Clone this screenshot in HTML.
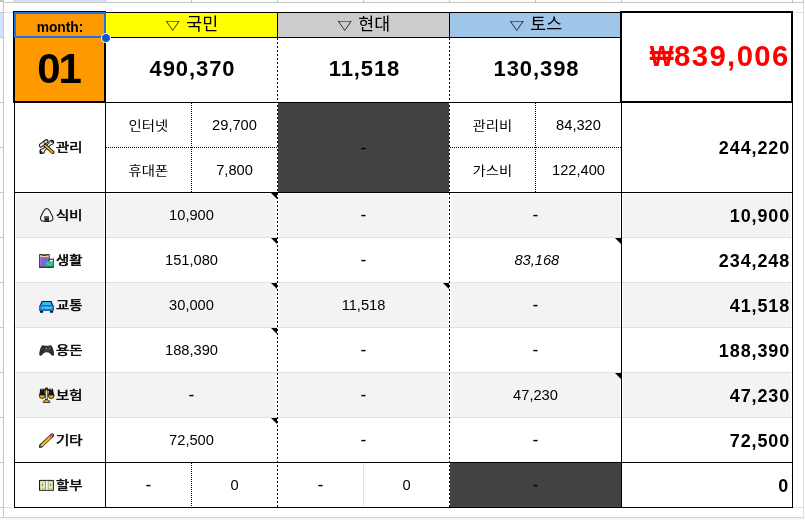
<!DOCTYPE html>
<html lang="ko"><head><meta charset="utf-8"><title>sheet</title>
<style>
html,body{margin:0;padding:0;background:#fff}
body{width:805px;height:520px;position:relative;overflow:hidden;font-family:"Liberation Sans", "Noto Sans CJK KR", sans-serif}
body>div{position:absolute}
.t{display:flex;align-items:center;white-space:nowrap;line-height:1}
.tri{font-size:14.5px;display:inline-block;-webkit-text-stroke:0.15px #000;transform:translate(-1.5px,0.5px) scale(1,0.8)}
.ic{display:inline-block;width:16px;height:16px;margin-right:1px}
.ic svg{display:block;width:16px;height:16px}
</style></head><body>
<div style="left:0px;top:0px;width:805px;height:2px;background:#fcfcfc;"></div>
<div style="left:0px;top:0px;width:3px;height:517px;background:#fcfcfc;"></div>
<div style="left:15px;top:0px;width:90px;height:2px;background:#d3e3fd;"></div>
<div style="left:0px;top:13px;width:3px;height:24px;background:#d3e3fd;"></div>
<div style="left:0px;top:0px;width:3px;height:2px;background:#c6c6c6;"></div>
<div style="left:14px;top:0px;width:1px;height:2px;background:#c4c7c5;"></div>
<div style="left:105px;top:0px;width:1px;height:2px;background:#c4c7c5;"></div>
<div style="left:191px;top:0px;width:1px;height:2px;background:#c4c7c5;"></div>
<div style="left:277px;top:0px;width:1px;height:2px;background:#c4c7c5;"></div>
<div style="left:363px;top:0px;width:1px;height:2px;background:#c4c7c5;"></div>
<div style="left:449px;top:0px;width:1px;height:2px;background:#c4c7c5;"></div>
<div style="left:535px;top:0px;width:1px;height:2px;background:#c4c7c5;"></div>
<div style="left:621px;top:0px;width:1px;height:2px;background:#c4c7c5;"></div>
<div style="left:792px;top:0px;width:1px;height:2px;background:#c4c7c5;"></div>
<div style="left:803px;top:0px;width:1px;height:2px;background:#c4c7c5;"></div>
<div style="left:0px;top:12px;width:3px;height:1px;background:#c4c7c5;"></div>
<div style="left:0px;top:37px;width:3px;height:1px;background:#c4c7c5;"></div>
<div style="left:0px;top:102px;width:3px;height:1px;background:#c4c7c5;"></div>
<div style="left:0px;top:147px;width:3px;height:1px;background:#c4c7c5;"></div>
<div style="left:0px;top:192px;width:3px;height:1px;background:#c4c7c5;"></div>
<div style="left:0px;top:237px;width:3px;height:1px;background:#c4c7c5;"></div>
<div style="left:0px;top:282px;width:3px;height:1px;background:#c4c7c5;"></div>
<div style="left:0px;top:327px;width:3px;height:1px;background:#c4c7c5;"></div>
<div style="left:0px;top:372px;width:3px;height:1px;background:#c4c7c5;"></div>
<div style="left:0px;top:417px;width:3px;height:1px;background:#c4c7c5;"></div>
<div style="left:0px;top:462px;width:3px;height:1px;background:#c4c7c5;"></div>
<div style="left:0px;top:507px;width:3px;height:1px;background:#c4c7c5;"></div>
<div style="left:3px;top:2px;width:801px;height:1px;background:#c4c7c5;"></div>
<div style="left:3px;top:0px;width:1px;height:518px;background:#c4c7c5;"></div>
<div style="left:0px;top:517px;width:804px;height:1px;background:#d0d0d0;"></div>
<div style="left:0px;top:518px;width:805px;height:2px;background:#f6f6f6;"></div>
<div style="left:803px;top:3px;width:1px;height:514px;background:#e1e1e1;"></div>
<div style="left:804px;top:0px;width:1px;height:520px;background:#fafafa;"></div>
<div style="left:4px;top:12px;width:9px;height:1px;background:#e1e1e1;"></div>
<div style="left:4px;top:507px;width:9px;height:1px;background:#e1e1e1;"></div>
<div style="left:793px;top:12px;width:10px;height:1px;background:#e1e1e1;"></div>
<div style="left:793px;top:507px;width:10px;height:1px;background:#e1e1e1;"></div>
<div style="left:15px;top:13px;width:89px;height:88px;background:#ff9900;"></div>
<div style="left:106px;top:13px;width:171px;height:24px;background:#ffff00;"></div>
<div style="left:278px;top:13px;width:171px;height:24px;background:#cccccc;"></div>
<div style="left:450px;top:13px;width:170px;height:24px;background:#9fc5e8;"></div>
<div style="left:278px;top:103px;width:171px;height:89px;background:#434343;"></div>
<div style="left:450px;top:463px;width:171px;height:44px;background:#434343;"></div>
<div style="left:16px;top:194px;width:88px;height:43px;background:#f3f3f3;"></div>
<div style="left:107px;top:194px;width:169px;height:43px;background:#f3f3f3;"></div>
<div style="left:279px;top:194px;width:169px;height:43px;background:#f3f3f3;"></div>
<div style="left:451px;top:194px;width:169px;height:43px;background:#f3f3f3;"></div>
<div style="left:623px;top:194px;width:168px;height:43px;background:#f3f3f3;"></div>
<div style="left:16px;top:283px;width:88px;height:44px;background:#f3f3f3;"></div>
<div style="left:107px;top:283px;width:169px;height:44px;background:#f3f3f3;"></div>
<div style="left:279px;top:283px;width:169px;height:44px;background:#f3f3f3;"></div>
<div style="left:451px;top:283px;width:169px;height:44px;background:#f3f3f3;"></div>
<div style="left:623px;top:283px;width:168px;height:44px;background:#f3f3f3;"></div>
<div style="left:16px;top:373px;width:88px;height:44px;background:#f3f3f3;"></div>
<div style="left:107px;top:373px;width:169px;height:44px;background:#f3f3f3;"></div>
<div style="left:279px;top:373px;width:169px;height:44px;background:#f3f3f3;"></div>
<div style="left:451px;top:373px;width:169px;height:44px;background:#f3f3f3;"></div>
<div style="left:623px;top:373px;width:168px;height:44px;background:#f3f3f3;"></div>
<div style="left:15px;top:237px;width:777px;height:1px;background:#e1e1e1;"></div>
<div style="left:15px;top:282px;width:777px;height:1px;background:#e1e1e1;"></div>
<div style="left:15px;top:327px;width:777px;height:1px;background:#e1e1e1;"></div>
<div style="left:15px;top:372px;width:777px;height:1px;background:#e1e1e1;"></div>
<div style="left:15px;top:417px;width:777px;height:1px;background:#e1e1e1;"></div>
<div style="left:363px;top:463px;width:1px;height:44px;background:#e1e1e1;"></div>
<div style="left:277px;top:38px;width:1px;height:64px;background:repeating-linear-gradient(180deg,#000 0 2px,transparent 2px 4px);background-position:0 0px;background-size:1px 4px"></div>
<div style="left:277px;top:103px;width:1px;height:404px;background:repeating-linear-gradient(180deg,#000 0 2px,transparent 2px 4px);background-position:0 2px;background-size:1px 4px"></div>
<div style="left:449px;top:38px;width:1px;height:64px;background:repeating-linear-gradient(180deg,#000 0 2px,transparent 2px 4px);background-position:0 0px;background-size:1px 4px"></div>
<div style="left:449px;top:103px;width:1px;height:404px;background:repeating-linear-gradient(180deg,#000 0 2px,transparent 2px 4px);background-position:0 2px;background-size:1px 4px"></div>
<div style="left:191px;top:103px;width:1px;height:89px;background:repeating-linear-gradient(180deg,#000 0 1px,transparent 1px 2px);background-position:0 0px;background-size:1px 2px"></div>
<div style="left:535px;top:103px;width:1px;height:89px;background:repeating-linear-gradient(180deg,#000 0 1px,transparent 1px 2px);background-position:0 0px;background-size:1px 2px"></div>
<div style="left:191px;top:463px;width:1px;height:44px;background:repeating-linear-gradient(180deg,#000 0 1px,transparent 1px 2px);background-position:0 0px;background-size:1px 2px"></div>
<div style="left:106px;top:147px;width:171px;height:1px;background:repeating-linear-gradient(90deg,#000 0 1px,transparent 1px 2px);background-position:0px 0;background-size:2px 1px"></div>
<div style="left:450px;top:147px;width:171px;height:1px;background:repeating-linear-gradient(90deg,#000 0 1px,transparent 1px 2px);background-position:0px 0;background-size:2px 1px"></div>
<div style="left:14px;top:103px;width:1px;height:405px;background:#000;"></div>
<div style="left:105px;top:103px;width:1px;height:405px;background:#000;"></div>
<div style="left:621px;top:103px;width:1px;height:405px;background:#000;"></div>
<div style="left:792px;top:103px;width:1px;height:405px;background:#000;"></div>
<div style="left:106px;top:12px;width:514px;height:1px;background:#000;"></div>
<div style="left:106px;top:37px;width:514px;height:1px;background:#000;"></div>
<div style="left:106px;top:102px;width:514px;height:1px;background:#000;"></div>
<div style="left:277px;top:13px;width:1px;height:24px;background:#000;"></div>
<div style="left:449px;top:13px;width:1px;height:24px;background:#000;"></div>
<div style="left:14px;top:192px;width:779px;height:1px;background:#000;"></div>
<div style="left:14px;top:462px;width:779px;height:1px;background:#000;"></div>
<div style="left:14px;top:507px;width:779px;height:1px;background:#000;"></div>
<div style="left:13px;top:11px;width:93px;height:92px;border:2px solid #000;box-sizing:border-box"></div>
<div style="left:620px;top:11px;width:173px;height:92px;border:2px solid #000;box-sizing:border-box"></div>
<div style="left:271px;top:193px;width:0;height:0;border-left:6px solid transparent;border-top:6px solid #000"></div>
<div style="left:271px;top:238px;width:0;height:0;border-left:6px solid transparent;border-top:6px solid #000"></div>
<div style="left:271px;top:283px;width:0;height:0;border-left:6px solid transparent;border-top:6px solid #000"></div>
<div style="left:271px;top:328px;width:0;height:0;border-left:6px solid transparent;border-top:6px solid #000"></div>
<div style="left:271px;top:418px;width:0;height:0;border-left:6px solid transparent;border-top:6px solid #000"></div>
<div style="left:443px;top:283px;width:0;height:0;border-left:6px solid transparent;border-top:6px solid #000"></div>
<div style="left:615px;top:238px;width:0;height:0;border-left:6px solid transparent;border-top:6px solid #000"></div>
<div style="left:615px;top:373px;width:0;height:0;border-left:6px solid transparent;border-top:6px solid #000"></div>
<div class="t" style="left:15px;top:13px;width:90px;height:24px;justify-content:center;font-size:13.8px;font-weight:700;"><span style="display:inline-block;transform:translate(0px,3px)">month:</span></div>
<div class="t" style="left:15px;top:38px;width:90px;height:64px;justify-content:center;font-size:42px;font-weight:700;letter-spacing:-2px;"><span style="display:inline-block;transform:translate(-1.5px,-1.4px)">01</span></div>
<div class="t" style="left:106px;top:13px;width:171px;height:24px;justify-content:center;font-size:17.33px;"><span style="display:inline-block;transform:translate(1px,0px)"><span class="tri">▽</span> 국민</span></div>
<div class="t" style="left:278px;top:13px;width:171px;height:24px;justify-content:center;font-size:17.33px;"><span style="display:inline-block;transform:translate(1px,0px)"><span class="tri">▽</span> 현대</span></div>
<div class="t" style="left:450px;top:13px;width:171px;height:24px;justify-content:center;font-size:17.33px;"><span style="display:inline-block;transform:translate(1px,0px)"><span class="tri">▽</span> 토스</span></div>
<div class="t" style="left:106px;top:38px;width:171px;height:64px;justify-content:center;font-size:22px;font-weight:700;letter-spacing:0.9px;"><span style="display:inline-block;transform:translate(1px,-0.7px)">490,370</span></div>
<div class="t" style="left:278px;top:38px;width:171px;height:64px;justify-content:center;font-size:22px;font-weight:700;letter-spacing:0.9px;"><span style="display:inline-block;transform:translate(1px,-0.7px)">11,518</span></div>
<div class="t" style="left:450px;top:38px;width:171px;height:64px;justify-content:center;font-size:22px;font-weight:700;letter-spacing:0.9px;"><span style="display:inline-block;transform:translate(1px,-0.7px)">130,398</span></div>
<div class="t" style="left:622px;top:13px;width:168px;height:88px;justify-content:flex-end;font-size:29.33px;font-weight:700;color:#ff0000;letter-spacing:1.4px;"><span style="display:inline-block;transform:translate(-0.2px,-0.7px)"><span style="display:inline-block;width:24.6px;letter-spacing:0;transform:scaleX(0.86);transform-origin:0 50%">₩</span>839,006</span></div>
<div class="t" style="left:106px;top:103px;width:85px;height:44px;justify-content:center;font-size:12.6px"><span style="display:inline-block;transform:translateY(0.5px) scaleX(1.14)">인터넷</span></div>
<div class="t" style="left:192px;top:103px;width:85px;height:44px;justify-content:center;font-size:14.67px;"><span>29,700</span></div>
<div class="t" style="left:106px;top:148px;width:85px;height:44px;justify-content:center;font-size:12.6px"><span style="display:inline-block;transform:translateY(0.5px) scaleX(1.14)">휴대폰</span></div>
<div class="t" style="left:192px;top:148px;width:85px;height:44px;justify-content:center;font-size:14.67px;"><span>7,800</span></div>
<div class="t" style="left:450px;top:103px;width:85px;height:44px;justify-content:center;font-size:12.6px"><span style="display:inline-block;transform:translateY(0.5px) scaleX(1.14)">관리비</span></div>
<div class="t" style="left:536px;top:103px;width:85px;height:44px;justify-content:center;font-size:14.67px;"><span>84,320</span></div>
<div class="t" style="left:450px;top:148px;width:85px;height:44px;justify-content:center;font-size:12.6px"><span style="display:inline-block;transform:translateY(0.5px) scaleX(1.14)">가스비</span></div>
<div class="t" style="left:536px;top:148px;width:85px;height:44px;justify-content:center;font-size:14.67px;"><span>122,400</span></div>
<div class="t" style="left:278px;top:103px;width:171px;height:89px;justify-content:center;font-size:17.5px;"><span style="display:inline-block;transform:translate(0px,0.8px)">-</span></div>
<div class="t" style="left:622px;top:103px;width:170px;height:89px;justify-content:flex-end;font-size:18px;font-weight:700;letter-spacing:0.9px;"><span style="display:inline-block;transform:translate(-1.8px,-0.5px)">244,220</span></div>
<div class="t" style="left:106px;top:193px;width:171px;height:44px;justify-content:center;font-size:14.67px;"><span>10,900</span></div>
<div class="t" style="left:278px;top:193px;width:171px;height:44px;justify-content:center;font-size:17.5px;"><span style="display:inline-block;transform:translate(0px,0.8px)">-</span></div>
<div class="t" style="left:450px;top:193px;width:171px;height:44px;justify-content:center;font-size:17.5px;"><span style="display:inline-block;transform:translate(0px,0.8px)">-</span></div>
<div class="t" style="left:622px;top:193px;width:170px;height:44px;justify-content:flex-end;font-size:18px;font-weight:700;letter-spacing:0.9px;"><span style="display:inline-block;transform:translate(-1.8px,0.5px)">10,900</span></div>
<div class="t" style="left:106px;top:238px;width:171px;height:44px;justify-content:center;font-size:14.67px;"><span>151,080</span></div>
<div class="t" style="left:278px;top:238px;width:171px;height:44px;justify-content:center;font-size:17.5px;"><span style="display:inline-block;transform:translate(0px,0.8px)">-</span></div>
<div class="t" style="left:450px;top:238px;width:171px;height:44px;justify-content:center;font-size:14.67px;"><span><i style="display:inline-block;transform:translateX(1.3px)">83,168</i></span></div>
<div class="t" style="left:622px;top:238px;width:170px;height:44px;justify-content:flex-end;font-size:18px;font-weight:700;letter-spacing:0.9px;"><span style="display:inline-block;transform:translate(-1.8px,0.5px)">234,248</span></div>
<div class="t" style="left:106px;top:283px;width:171px;height:44px;justify-content:center;font-size:14.67px;"><span>30,000</span></div>
<div class="t" style="left:278px;top:283px;width:171px;height:44px;justify-content:center;font-size:14.67px;"><span>11,518</span></div>
<div class="t" style="left:450px;top:283px;width:171px;height:44px;justify-content:center;font-size:17.5px;"><span style="display:inline-block;transform:translate(0px,0.8px)">-</span></div>
<div class="t" style="left:622px;top:283px;width:170px;height:44px;justify-content:flex-end;font-size:18px;font-weight:700;letter-spacing:0.9px;"><span style="display:inline-block;transform:translate(-1.8px,0.5px)">41,518</span></div>
<div class="t" style="left:106px;top:328px;width:171px;height:44px;justify-content:center;font-size:14.67px;"><span>188,390</span></div>
<div class="t" style="left:278px;top:328px;width:171px;height:44px;justify-content:center;font-size:17.5px;"><span style="display:inline-block;transform:translate(0px,0.8px)">-</span></div>
<div class="t" style="left:450px;top:328px;width:171px;height:44px;justify-content:center;font-size:17.5px;"><span style="display:inline-block;transform:translate(0px,0.8px)">-</span></div>
<div class="t" style="left:622px;top:328px;width:170px;height:44px;justify-content:flex-end;font-size:18px;font-weight:700;letter-spacing:0.9px;"><span style="display:inline-block;transform:translate(-1.8px,0.5px)">188,390</span></div>
<div class="t" style="left:106px;top:373px;width:171px;height:44px;justify-content:center;font-size:17.5px;"><span style="display:inline-block;transform:translate(0px,0.8px)">-</span></div>
<div class="t" style="left:278px;top:373px;width:171px;height:44px;justify-content:center;font-size:17.5px;"><span style="display:inline-block;transform:translate(0px,0.8px)">-</span></div>
<div class="t" style="left:450px;top:373px;width:171px;height:44px;justify-content:center;font-size:14.67px;"><span>47,230</span></div>
<div class="t" style="left:622px;top:373px;width:170px;height:44px;justify-content:flex-end;font-size:18px;font-weight:700;letter-spacing:0.9px;"><span style="display:inline-block;transform:translate(-1.8px,0.5px)">47,230</span></div>
<div class="t" style="left:106px;top:418px;width:171px;height:44px;justify-content:center;font-size:14.67px;"><span>72,500</span></div>
<div class="t" style="left:278px;top:418px;width:171px;height:44px;justify-content:center;font-size:17.5px;"><span style="display:inline-block;transform:translate(0px,0.8px)">-</span></div>
<div class="t" style="left:450px;top:418px;width:171px;height:44px;justify-content:center;font-size:17.5px;"><span style="display:inline-block;transform:translate(0px,0.8px)">-</span></div>
<div class="t" style="left:622px;top:418px;width:170px;height:44px;justify-content:flex-end;font-size:18px;font-weight:700;letter-spacing:0.9px;"><span style="display:inline-block;transform:translate(-1.8px,0.5px)">72,500</span></div>
<div class="t" style="left:106px;top:463px;width:85px;height:44px;justify-content:center;font-size:17.5px;"><span style="display:inline-block;transform:translate(0px,0.8px)">-</span></div>
<div class="t" style="left:192px;top:463px;width:85px;height:44px;justify-content:center;font-size:14.67px;"><span>0</span></div>
<div class="t" style="left:278px;top:463px;width:85px;height:44px;justify-content:center;font-size:17.5px;"><span style="display:inline-block;transform:translate(0px,0.8px)">-</span></div>
<div class="t" style="left:364px;top:463px;width:85px;height:44px;justify-content:center;font-size:14.67px;"><span>0</span></div>
<div class="t" style="left:450px;top:463px;width:171px;height:44px;justify-content:center;font-size:17.5px;"><span style="display:inline-block;transform:translate(0px,0.8px)">-</span></div>
<div class="t" style="left:622px;top:463px;width:170px;height:44px;justify-content:flex-end;font-size:18px;font-weight:700;letter-spacing:0.9px;"><span style="display:inline-block;transform:translate(-2.8px,0.5px)">0</span></div>
<div style="left:39px;top:139px;line-height:0"><svg width="16" height="16" viewBox="0 0 16 16"><g transform="translate(0,0.4)"><path d="M3.2 11.9 L12.4 3" stroke="#151515" stroke-width="3.5"/><circle cx="3.2" cy="11.9" r="2.75" fill="#151515"/><circle cx="12.6" cy="2.9" r="2.5" fill="#151515"/><path d="M3.4 11.7 L12.2 3.2" stroke="#ececec" stroke-width="1.7"/><circle cx="3.5" cy="11.6" r="1.75" fill="#f0f0f0"/><circle cx="12.3" cy="3.2" r="1.6" fill="#f0f0f0"/><path d="M0.9 14.3 L3.1 12.1" stroke="#151515" stroke-width="1.6"/><path d="M14.4 1.2 L12.5 3.1" stroke="#151515" stroke-width="1.6"/><path d="M4 4.2 L13.7 12.9" stroke="#151515" stroke-width="3.5" stroke-linecap="round"/><path d="M3.6 3.7 L13.6 12.8" stroke="#f5a800" stroke-width="1.9" stroke-linecap="round"/><path d="M1.9 6 L7.4 1.9" stroke="#151515" stroke-width="4.3" stroke-linecap="round"/><path d="M1.9 6 L4.1 4.35" stroke="#ececec" stroke-width="2.3" stroke-linecap="round"/><path d="M6.2 2.9 L7.4 2" stroke="#e0e0e0" stroke-width="2" stroke-linecap="round"/><path d="M3.2 3.2 L4.1 4" stroke="#f5a800" stroke-width="1.3"/></g></svg></div>
<div class="t lab" style="left:56px;top:104px;width:40px;height:89px;justify-content:flex-start;font-size:12.4px;font-weight:400;-webkit-text-stroke:0.5px #000"><span style="display:inline-block;transform:scaleX(1.16);transform-origin:0 50%">관리</span></div>
<div style="left:39px;top:207px;line-height:0"><svg width="16" height="16" viewBox="0 0 16 16"><g transform="translate(0,0.4)"><path d="M7.7 1.1 C6.2 1.1 5.3 2.3 4.4 4 L1.8 9.3 C0.6 11.8 2 13.6 4.5 13.9 C6.6 14.2 8.8 14.2 10.9 13.9 C13.4 13.6 14.8 11.8 13.6 9.3 L11 4 C10.1 2.3 9.2 1.1 7.7 1.1Z" fill="#f6f6f6" stroke="#1a1a1a" stroke-width="1.05"/><rect x="5.4" y="9" width="4.6" height="4.9" fill="#2e2e2e"/><rect x="5.4" y="9" width="4.6" height="1.6" fill="#555"/></g></svg></div>
<div class="t lab" style="left:56px;top:194px;width:40px;height:44px;justify-content:flex-start;font-size:12.4px;font-weight:400;-webkit-text-stroke:0.5px #000"><span style="display:inline-block;transform:scaleX(1.16);transform-origin:0 50%">식비</span></div>
<div style="left:39px;top:253px;line-height:0"><svg width="16" height="16" viewBox="0 0 16 16"><g transform="translate(0,0)"><rect x="0.7" y="1.6" width="9.4" height="12.5" fill="#fff" stroke="#1c1c1c" stroke-width="1"/><path d="M2.6 2 H8.4 V3 H2.6Z" fill="#1c1c1c"/><rect x="1.2" y="3.8" width="8.4" height="9.8" fill="#8560e0"/><path d="M10.1 5.7 C11 6.6 13.4 6.6 14.3 5.7 V14.1 H10.1Z" fill="#fff" stroke="#1c1c1c" stroke-width="1"/><rect x="6.6" y="8.4" width="7.7" height="5.7" fill="#1dbf9c"/><path d="M0.2 14.1 H14.8" stroke="#1c1c1c" stroke-width="1"/><path d="M3.5 5.2 V3.4 A2 2.3 0 0 1 7.5 3.4 V5.2" fill="none" stroke="#d99a10" stroke-width="0.9"/><path d="M8.6 9.6 V10.6 L10.4 12.2 L12.2 10.6 V9.6" fill="none" stroke="#c9d23a" stroke-width="0.6"/></g></svg></div>
<div class="t lab" style="left:56px;top:239px;width:40px;height:44px;justify-content:flex-start;font-size:12.4px;font-weight:400;-webkit-text-stroke:0.5px #000"><span style="display:inline-block;transform:scaleX(1.16);transform-origin:0 50%">생활</span></div>
<div style="left:39px;top:301px;line-height:0"><svg width="16" height="13" viewBox="0 0 16 13"><g transform="translate(0,0)"><rect x="0.9" y="9" width="3.2" height="2.8" rx=".6" fill="#151515"/><rect x="10.9" y="9" width="3.2" height="2.8" rx=".6" fill="#151515"/><path d="M2.6 0 H12.5 L14.6 5.2 H0.5Z" fill="#161616"/><path d="M3.5 1 H11.6 L13.3 5 H1.8Z" fill="#2bbcf4"/><rect x="0.2" y="4.2" width="14.7" height="5.8" rx="1.2" fill="#143a66"/><rect x="0.8" y="4.4" width="13.5" height="5.4" rx="1" fill="#1a8de8"/><rect x="0.8" y="8.3" width="13.5" height="1.5" rx=".7" fill="#0e6fd2"/><rect x="5.6" y="6.1" width="4.8" height="1.4" fill="#b9c0cc"/><circle cx="3.8" cy="6.9" r=".85" fill="#c8e070"/><circle cx="11.6" cy="6.9" r=".85" fill="#c8e070"/></g></svg></div>
<div class="t lab" style="left:56px;top:284px;width:40px;height:44px;justify-content:flex-start;font-size:12.4px;font-weight:400;-webkit-text-stroke:0.5px #000"><span style="display:inline-block;transform:scaleX(1.16);transform-origin:0 50%">교통</span></div>
<div style="left:39px;top:345px;line-height:0"><svg width="16" height="12" viewBox="0 0 16 12"><g transform="translate(0,0)"><path d="M3.2 0.4 C4.2 0 5.2 0.3 5.7 0.8 H9.7 C10.2 0.3 11.2 0 12.2 0.4 C13.7 1 15.3 7.4 15.1 9.4 C14.9 11.1 13.4 11.2 12.4 10.1 L10.4 8 C9.2 7.1 6.2 7.1 5 8 L3 10.1 C2 11.2 0.5 11.1 0.3 9.4 C0.1 7.4 1.7 1 3.2 0.4Z" fill="#2e2e2e"/><circle cx="7.3" cy="3.4" r=".6" fill="#e8e8e8"/><circle cx="10.3" cy="2.4" r=".5" fill="#d8b020"/><circle cx="11.4" cy="3.4" r=".5" fill="#d04030"/><circle cx="9.2" cy="3.4" r=".5" fill="#3070d0"/><circle cx="10.3" cy="4.4" r=".5" fill="#30a030"/><rect x="3.3" y="3" width="1.6" height=".7" fill="#555"/><rect x="5.2" y="5" width="4.6" height="1.3" rx=".5" fill="#484848"/></g></svg></div>
<div class="t lab" style="left:56px;top:329px;width:40px;height:44px;justify-content:flex-start;font-size:12.4px;font-weight:400;-webkit-text-stroke:0.5px #000"><span style="display:inline-block;transform:scaleX(1.16);transform-origin:0 50%">용돈</span></div>
<div style="left:39px;top:387px;line-height:0"><svg width="16" height="17" viewBox="0 0 16 17"><g transform="translate(0,0.5)"><path d="M1.3 1.2 H5.3 L6.2 7.9 H0.2Z" fill="#151515"/><path d="M9.9 1.2 H13.9 L15.2 7.9 H9.2Z" fill="#151515"/><path d="M1.7 2.5 H13.5" stroke="#151515" stroke-width="1.6"/><rect x="6.2" y="0.1" width="2.7" height="2" rx=".8" fill="#151515"/><path d="M0.2 7.4 H6.2 A3 3.7 0 0 1 0.2 7.4Z" fill="#f5a800" stroke="#151515" stroke-width=".8"/><path d="M9.2 7.4 H15.2 A3 3.7 0 0 1 9.2 7.4Z" fill="#f5a800" stroke="#151515" stroke-width=".8"/><rect x="6.4" y="1.2" width="2.2" height="11.4" fill="#151515"/><rect x="7" y="3.6" width="1" height="8.8" fill="#dedede"/><path d="M7.5 1.9 L8.5 2.9 L7.5 4.1 L6.5 2.9Z" fill="#f5a800"/><rect x="2.4" y="1.3" width="1.2" height="1.4" fill="#f5a800"/><rect x="11.5" y="1.3" width="1.2" height="1.4" fill="#f5a800"/><path d="M4.3 15 H10.9 V13.8 L8.7 12.8 L8.2 12 H6.9 L6.4 12.8 L4.3 13.8Z" fill="#f5a800" stroke="#151515" stroke-width=".8" stroke-linejoin="round"/></g></svg></div>
<div class="t lab" style="left:56px;top:374px;width:40px;height:44px;justify-content:flex-start;font-size:12.4px;font-weight:400;-webkit-text-stroke:0.5px #000"><span style="display:inline-block;transform:scaleX(1.16);transform-origin:0 50%">보험</span></div>
<div style="left:39px;top:433px;line-height:0"><svg width="16" height="16" viewBox="0 0 16 16"><g transform="translate(0,0)"><path d="M2.2 12.7 L13.1 2.3" stroke="#1e1e1e" stroke-width="3.8" stroke-linecap="round"/><path d="M0.3 14.6 L1.4 11.2 L3.8 13.6Z" fill="#1e1e1e" stroke="#1e1e1e" stroke-width=".7" stroke-linejoin="round"/><path d="M3.2 11.8 L11 4.3" stroke="#fdb900" stroke-width="2.4"/><path d="M11 4.3 L12 3.35" stroke="#dcdcdc" stroke-width="2.4"/><path d="M12 3.35 L13 2.4" stroke="#f04a63" stroke-width="2.3" stroke-linecap="round"/><path d="M1.1 13.9 L2.3 11 L4 12.7Z" fill="#f6e6d0"/><path d="M0.5 14.4 L1.1 12.9 L2 13.8Z" fill="#333"/></g></svg></div>
<div class="t lab" style="left:56px;top:419px;width:40px;height:44px;justify-content:flex-start;font-size:12.4px;font-weight:400;-webkit-text-stroke:0.5px #000"><span style="display:inline-block;transform:scaleX(1.16);transform-origin:0 50%">기타</span></div>
<div style="left:39px;top:479px;line-height:0"><svg width="16" height="13" viewBox="0 0 16 13"><g transform="translate(0,0.9)"><rect x="0.5" y="0.5" width="13.9" height="9.9" fill="#e9ebb0" stroke="#1a1a1a" stroke-width="1"/><rect x="1.6" y="1.6" width="11.7" height="7.7" fill="none" stroke="#cfd39a" stroke-width=".6"/><rect x="1" y="8.4" width="12.9" height="1.5" fill="#c5c89a"/><ellipse cx="3.5" cy="4.9" rx="1.5" ry="2.2" fill="#d7ecae"/><ellipse cx="11.6" cy="4.9" rx="1.5" ry="2.2" fill="#d7ecae"/><rect x="5.9" y="1" width="1.1" height="8.9" fill="#9a9a9a"/><rect x="8.5" y="1" width="1.1" height="8.9" fill="#9a9a9a"/><rect x="7" y="1" width="1.5" height="8.9" fill="#fff"/><ellipse cx="3.5" cy="4.9" rx=".7" ry="1.4" fill="#3ecf3e"/><ellipse cx="11.6" cy="4.9" rx=".7" ry="1.4" fill="#3ecf3e"/></g></svg></div>
<div class="t lab" style="left:56px;top:464px;width:40px;height:44px;justify-content:flex-start;font-size:12.4px;font-weight:400;-webkit-text-stroke:0.5px #000"><span style="display:inline-block;transform:scaleX(1.16);transform-origin:0 50%">할부</span></div>
<div style="left:14px;top:12px;width:92px;height:26px;border:2px solid #1a73e8;box-sizing:border-box"></div>
<div style="left:101px;top:33px;width:10px;height:10px;border-radius:50%;background:#0b57d0;border:1px solid #fff;box-sizing:border-box"></div>
</body></html>
